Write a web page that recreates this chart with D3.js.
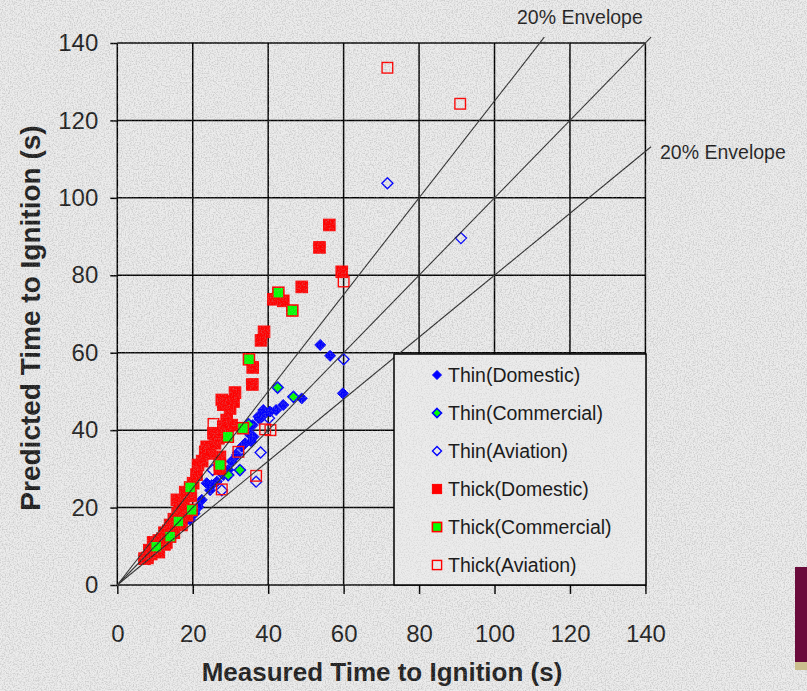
<!DOCTYPE html>
<html>
<head>
<meta charset="utf-8">
<script src="https://cdn.jsdelivr.net/npm/d3@7"></script>
<style>
    body { margin: 0; background: #ececec; }
    svg { display: block; }
    text { font-family: "Liberation Sans", Arial, sans-serif; fill: #1c1c1c; }
</style>
</head>
<body>
<div id="chart"></div>
<script>
    // values, [measured, predicted] in seconds
    let thinDomestic = [
        [8, 8], [9.5, 9], [11, 10.5], [13, 12], [14.5, 13.5], [16, 15], [17.5, 16], [19.3, 16.8],
        [20.5, 18.5], [21.5, 20.2], [22.4, 22], [23.7, 26.3], [24.6, 24.5], [25, 25.8], [26.4, 26.7],
        [28.1, 28.4], [29.4, 29.7], [30.3, 31.9], [31.7, 33.6], [33, 35.7], [33.9, 36.6], [35.2, 38.8],
        [35.6, 37], [36.1, 38.3], [35.9, 41.3], [37.4, 43.5], [37.7, 42.8], [38.7, 43.9], [38.7, 45.2],
        [40.5, 44.8], [42.1, 45.2], [44, 46.5], [48.9, 48.2], [53.8, 62], [56.4, 59.2], [59.8, 49.5]
    ];
    let thinCommercial = [
        [42.5, 51], [46.7, 48.6], [34.8, 41.5], [32.5, 29.7], [29.4, 28.4]
    ];
    let thinAviation = [
        [71.6, 103.8], [91.1, 89.6], [60, 58.3], [38, 34.2], [36.8, 26.7], [27.7, 24.5],
        [25.3, 29.7], [32.1, 34.2], [40.2, 43.1]
    ];
    let thickDomestic = [
        [56.2, 93], [53.6, 87.2], [59.5, 80.9], [48.9, 77], [41.4, 73.8], [44, 73.4], [38.9, 65.4],
        [38.1, 63.2], [35.9, 56.2], [35.8, 51.8], [31.2, 49.7], [30.8, 47.4], [27.7, 47.8], [28.1, 46.6],
        [29.9, 45.6], [29, 42.6], [30.3, 41.3], [28.1, 40.9], [25.5, 39.2], [26.8, 37.9], [23.7, 35.7],
        [25.9, 36.6], [24.6, 34], [23.3, 34.4], [27.2, 33.1], [21.4, 31], [22.5, 32], [27.2, 30],
        [20.1, 26.3], [21, 28.5], [18, 24], [19.5, 23], [15.8, 22], [17.5, 21], [16.5, 20], [16, 18.5],
        [15, 17], [14, 15.5], [13.5, 14], [12.5, 13.5], [12, 12], [11, 11.5], [10.5, 10], [10, 9],
        [9.5, 11], [9, 8], [8.5, 9], [8, 7], [7.2, 6.8], [12.5, 10.5], [13, 11], [15, 13.5],
        [17, 15.5], [18.5, 18], [11, 8.5]
    ];
    let thickCommercial = [
        [42.7, 75.5], [46.4, 70.9], [34.9, 58.3], [33.3, 40.5], [29.3, 38.3], [27.2, 31],
        [19.3, 25.2], [19.7, 19.4], [16.2, 16.4], [14, 12.5], [10.3, 9.9]
    ];
    let thickAviation = [
        [71.6, 133.6], [90.9, 124.3], [60, 78.4], [39.2, 40.2], [40.6, 40], [25.5, 41.6],
        [32.1, 34.4], [36.8, 28.2], [27.7, 24.7]
    ];

    let axisTicks = [0, 20, 40, 60, 80, 100, 120, 140];
    let envelopeRatios = [1.25, 1, 0.8];
    let seriesNames = ["Thin(Domestic)", "Thin(Commercial)", "Thin(Aviation)",
                       "Thick(Domestic)", "Thick(Commercial)", "Thick(Aviation)"];

    let w = 807, h = 691;
    let bg = "#ececec";

    let svg = d3.select("#chart").append("svg")
        .attr("width", w)
        .attr("height", h);

    // speckled slide background
    let defs = svg.append("defs");
    let grain = defs.append("filter")
        .attr("id", "grain")
        .attr("filterUnits", "userSpaceOnUse")
        .attr("x", 0).attr("y", 0).attr("width", w).attr("height", h);
    grain.append("feTurbulence")
        .attr("type", "fractalNoise")
        .attr("baseFrequency", 0.75)
        .attr("numOctaves", 2)
        .attr("seed", 4);
    grain.append("feColorMatrix")
        .attr("type", "matrix")
        .attr("values", "0 0 0 0 0.45  0 0 0 0 0.45  0 0 0 0 0.45  0.9 0 0 0 -0.38");

    function paper(g, x0, y0, ww, hh) {
        g.append("rect").attr("x", x0).attr("y", y0).attr("width", ww).attr("height", hh).attr("fill", bg);
        g.append("rect").attr("x", x0).attr("y", y0).attr("width", ww).attr("height", hh)
            .attr("fill", "#fff").attr("filter", "url(#grain)");
    }
    paper(svg, 0, 0, w, h);

    let x = d3.scaleLinear().domain([0, 140]).range([117.3, 645.4]);
    let y = d3.scaleLinear().domain([0, 140]).range([585, 43]);

    // grid
    let grid = svg.append("g").attr("stroke", "#000").attr("stroke-width", 1.5);
    grid.selectAll(".gx").data(axisTicks).enter().append("line")
        .attr("x1", d => x(d)).attr("x2", d => x(d))
        .attr("y1", y(0)).attr("y2", y(140));
    grid.selectAll(".gy").data(axisTicks).enter().append("line")
        .attr("x1", x(0)).attr("x2", x(140))
        .attr("y1", d => y(d)).attr("y2", d => y(d));

    // axes
    let xAxis = svg.append("g")
        .attr("transform", "translate(0," + y(0) + ")")
        .call(d3.axisBottom(x).tickValues(axisTicks).tickSize(9).tickPadding(31));
    let yAxis = svg.append("g")
        .attr("transform", "translate(" + x(0) + ",0)")
        .call(d3.axisLeft(y).tickValues(axisTicks).tickSize(7).tickPadding(12));
    [xAxis, yAxis].forEach(function(a) {
        a.select(".domain").remove();
        a.selectAll(".tick line").attr("stroke", "#000").attr("stroke-width", 1.5);
        a.selectAll(".tick text").attr("font-size", 24).style("font-family", '"Liberation Sans", Arial, sans-serif').attr("fill", "#1c1c1c");
    });

    svg.append("text")
        .attr("x", 382).attr("y", 681)
        .attr("text-anchor", "middle")
        .attr("font-size", 26).attr("font-weight", "bold")
        .text("Measured Time to Ignition (s)");
    svg.append("text")
        .attr("transform", "translate(40,318) rotate(-90)")
        .attr("text-anchor", "middle")
        .attr("font-size", 28).attr("font-weight", "bold")
        .text("Predicted Time to Ignition (s)");

    // markers
    let diamond = function(r) { return "M0," + (-r) + "L" + r + ",0L0," + r + "L" + (-r) + ",0Z"; };
    let styles = [
        { shape: "diamond", r: 5.5, fill: "#0000ff", stroke: "#0000ff", sw: 1 },
        { shape: "diamond", r: 5.5, fill: "#00ff00", stroke: "#0000ff", sw: 1.6 },
        { shape: "diamond", r: 5.5, fill: "none", stroke: "#0000ff", sw: 1.4 },
        { shape: "square", r: 5.8, fill: "#ff0000", stroke: "#ff0000", sw: 1 },
        { shape: "square", r: 5.5, fill: "#00ff00", stroke: "#ff0000", sw: 1.6 },
        { shape: "square", r: 5.3, fill: "none", stroke: "#ff0000", sw: 1.4 }
    ];
    let allSeries = [thinDomestic, thinCommercial, thinAviation, thickDomestic, thickCommercial, thickAviation];

    function drawMark(sel, st, r) {
        if (st.shape == "diamond") {
            sel.append("path").attr("d", diamond(r));
        } else {
            sel.append("rect").attr("x", -r).attr("y", -r).attr("width", 2 * r).attr("height", 2 * r);
        }
        sel.selectAll("path,rect")
            .attr("fill", st.fill).attr("stroke", st.stroke).attr("stroke-width", st.sw);
    }

    allSeries.forEach(function(data, i) {
        let g = svg.append("g");
        g.selectAll("g").data(data).enter().append("g")
            .attr("transform", d => "translate(" + x(d[0]) + "," + y(d[1]) + ")")
            .each(function() { drawMark(d3.select(this), styles[i], styles[i].r); });
    });

    // 20% envelope lines and the 1:1 line
    svg.append("g").selectAll("line").data(envelopeRatios).enter().append("line")
        .attr("x1", x(0)).attr("y1", y(0))
        .attr("x2", d => x(d > 1 ? 141.5 / d : 141.5))
        .attr("y2", d => y(d > 1 ? 141.5 : 141.5 * d))
        .attr("stroke", "#2a2a2a").attr("stroke-width", 1.1);

    svg.append("text").attr("x", 517).attr("y", 24).attr("font-size", 19.5).text("20% Envelope");
    svg.append("text").attr("x", 660).attr("y", 159).attr("font-size", 19.5).text("20% Envelope");

    // legend
    let lg = svg.append("g");
    paper(lg, 394, 354, 252, 231);
    lg.append("rect").attr("x", 394).attr("y", 354).attr("width", 252).attr("height", 231)
        .attr("fill", "none").attr("stroke", "#000").attr("stroke-width", 1.5);
    seriesNames.forEach(function(name, i) {
        let ly = 375 + i * 38;
        let m = lg.append("g").attr("transform", "translate(437," + ly + ")");
        drawMark(m, styles[i], styles[i].shape == "diamond" ? 4.5 : 4.6);
        lg.append("text").attr("x", 448).attr("y", ly).attr("dy", "0.35em")
            .attr("font-size", 19.5).text(name);
    });

    // corner of the slide logo
    svg.append("rect").attr("x", 795).attr("y", 567).attr("width", 12).attr("height", 95).attr("fill", "#6a0b3b");
    svg.append("rect").attr("x", 795).attr("y", 662).attr("width", 12).attr("height", 8).attr("fill", "#cbbf8e");
</script>
</body>
</html>
